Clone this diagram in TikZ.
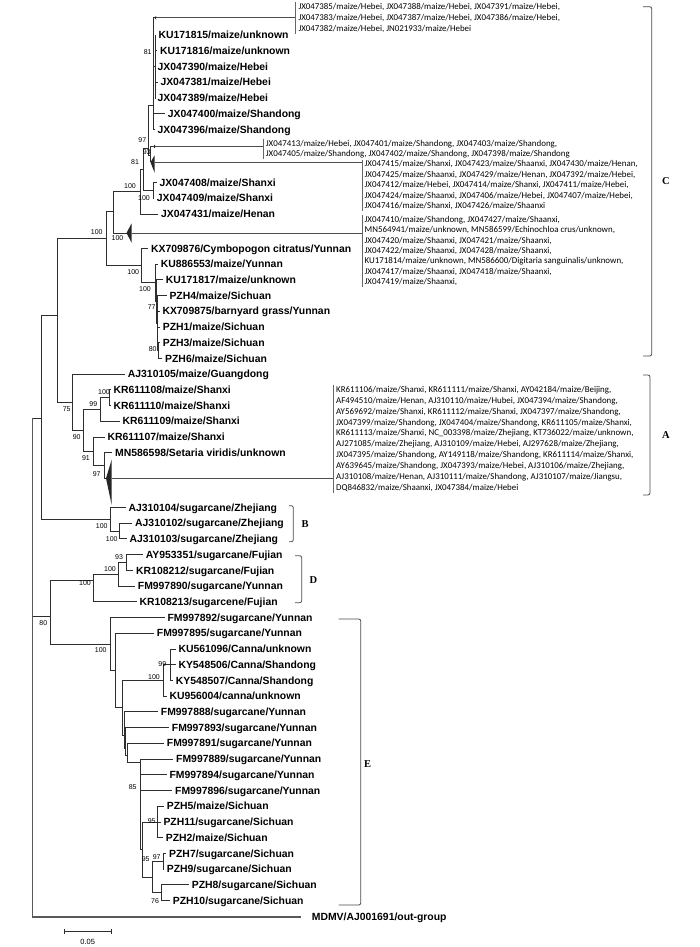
\documentclass[tikz,border=0pt]{standalone}
\usepackage{fontspec}
\setmainfont{Liberation Sans}
\newfontfamily\carl{Carlito}
\newfontfamily\serifb{Liberation Serif}
\tikzset{
 tree/.style={line width=0.75pt, draw=black!82},
 lab/.style={anchor=west, inner sep=0pt, font=\bfseries\fontsize{10.4}{12}\selectfont, text height=7.5pt, text depth=0pt},
 bs/.style={inner sep=0pt, font=\fontsize{7}{8}\selectfont},
 gline/.style={anchor=west, inner sep=0pt, font=\carl\fontsize{8.9}{10}\selectfont, text height=5.7pt, text depth=0pt},
 gbar/.style={line width=0.6pt, draw=black!60},
 conn/.style={line width=0.75pt, draw=black!70},
 brk/.style={line width=0.8pt, draw=black!70, rounded corners=2pt},
 clade/.style={inner sep=0pt, font=\serifb\bfseries\fontsize{10.5}{12}\selectfont},
 tri/.style={fill=black!85},
}
\newcommand\tleaf[4]{\node[lab] (#1) at (#2,#3) {#4};}
\newcommand\tcn[2]{\draw[tree] (#1) |- (#2);}
\newcommand\tcl[2]{\draw[tree] (#1) |- ([xshift=-2.6pt]#2.west);}
\newcommand\tbs[4]{\node[bs] (#1) at (#2,#3) {#4};}
\newcommand\tgl[4]{\node[gline] (#1) at (#2,#3) {#4};}
\begin{document}
\begin{tikzpicture}[x=1pt,y=-1pt]
\useasboundingbox (0,0) rectangle (700,947);
\fill[white] (0,0) rectangle (700,947);
% ---------- internal nodes
\coordinate (rt) at (32.3,418);
\coordinate (n41) at (41,418);
\coordinate (nC) at (57.3,315);
\coordinate (n106) at (106,238.5);
\coordinate (n114) at (113.3,211.8);
\coordinate (n140) at (140,191.5);
\coordinate (n143) at (143.3,169.2);
\coordinate (n97) at (148.5,148);
\coordinate (nTop) at (153.3,105);
\coordinate (nTopb) at (155,66.4);
\coordinate (n93) at (150.5,155);
\coordinate (n153) at (153.3,190.4);
\coordinate (n141) at (141.7,265.5);
\coordinate (n155) at (155,282.7);
\coordinate (n157) at (156.7,301.3);
\coordinate (n77) at (157.8,323);
\coordinate (n80) at (158.8,350.5);
\coordinate (nA) at (72.7,402.2);
\coordinate (n90) at (83.3,430.3);
\coordinate (n99) at (100,409.4);
\coordinate (n100) at (109.3,397.5);
\coordinate (n91) at (93.3,451.2);
\coordinate (n97a) at (104,465.5);
\coordinate (nB) at (110,519.2);
\coordinate (n100B) at (119.3,531);
\coordinate (nDE) at (50,616);
\coordinate (nD) at (93.3,580);
\coordinate (n100d) at (118.3,574.2);
\coordinate (n93d) at (126,562.4);
\coordinate (nE) at (110,644);
\coordinate (nE2) at (115,670.4);
\coordinate (nE3) at (122.7,707.6);
\coordinate (nCan) at (163.3,680.3);
\coordinate (n99c) at (170,664.6);
\coordinate (nE4) at (124.2,735);
\coordinate (nE5) at (125.7,748);
\coordinate (nE6) at (127.2,755);
\coordinate (n85) at (140,762);
\coordinate (nP) at (142.7,849.5);
\coordinate (n95a) at (157.3,821.9);
\coordinate (n95b) at (152.7,877);
\coordinate (n97e) at (163.3,861.2);
\coordinate (n76) at (161.7,892.7);
% collapsed clade tips and bases
\coordinate (t1) at (154.5,17.8);   \coordinate (t1b) at (156,17.8);
\coordinate (t2) at (153,146.5);    \coordinate (t2b) at (155,146.5);
\coordinate (t3) at (150.5,162.3);  \coordinate (t3b) at (154.5,162.3);
\coordinate (t4) at (126.5,233);    \coordinate (t4b) at (131.5,233);
\coordinate (tA) at (106,478.3);    \coordinate (tAb) at (111.7,478.3);
\coordinate (mdEnd) at (301,917);
% ends of the connectors at the bars of the collapsed lists
\coordinate (g1x) at (295.7,17.8);
\coordinate (g2x) at (263.3,146.5);
\coordinate (g3x) at (362.5,162.3);
\coordinate (g4x) at (362.5,233);
\coordinate (gAx) at (333.5,478.3);
% ---------- leaves
\tleaf{KU171815}{158.3}{35}{KU171815/maize/unknown}
\tleaf{KU171816}{159.8}{50.7}{KU171816/maize/unknown}
\tleaf{JX047390}{157.5}{66.4}{JX047390/maize/Hebei}
\tleaf{JX047381}{160.3}{82.2}{JX047381/maize/Hebei}
\tleaf{JX047389}{157.5}{97.9}{JX047389/maize/Hebei}
\tleaf{JX047400}{167.7}{113.6}{JX047400/maize/Shandong}
\tleaf{JX047396}{157.5}{129.3}{JX047396/maize/Shandong}
\tleaf{JX047408}{159.3}{182.5}{JX047408/maize/Shanxi}
\tleaf{JX047409}{156.7}{198.2}{JX047409/maize/Shanxi}
\tleaf{JX047431}{161}{213.9}{JX047431/maize/Henan}
\tleaf{KX709876}{151}{248.3}{KX709876/Cymbopogon citratus/Yunnan}
\tleaf{KU886553}{160.7}{264}{KU886553/maize/Yunnan}
\tleaf{KU171817}{165.7}{279.7}{KU171817/maize/unknown}
\tleaf{PZH4}{169.3}{295.4}{PZH4/maize/Sichuan}
\tleaf{KX709875}{162.3}{311.1}{KX709875/barnyard grass/Yunnan}
\tleaf{PZH1}{162.7}{326.9}{PZH1/maize/Sichuan}
\tleaf{PZH3}{162.7}{342.6}{PZH3/maize/Sichuan}
\tleaf{PZH6}{165}{358.3}{PZH6/maize/Sichuan}
\tleaf{AJ310105}{127.7}{374}{AJ310105/maize/Guangdong}
\tleaf{KR611108}{113.3}{389.7}{KR611108/maize/Shanxi}
\tleaf{KR611110}{113.3}{405.4}{KR611110/maize/Shanxi}
\tleaf{KR611109}{122.3}{421.2}{KR611109/maize/Shanxi}
\tleaf{KR611107}{107.3}{436.9}{KR611107/maize/Shanxi}
\tleaf{MN586598}{115}{452.6}{MN586598/Setaria viridis/unknown}
\tleaf{AJ310104}{128.3}{507.3}{AJ310104/sugarcane/Zhejiang}
\tleaf{AJ310102}{135}{523.1}{AJ310102/sugarcane/Zhejiang}
\tleaf{AJ310103}{129.3}{538.8}{AJ310103/sugarcane/Zhejiang}
\tleaf{AY953351}{145.7}{554.5}{AY953351/sugarcane/Fujian}
\tleaf{KR108212}{136}{570.3}{KR108212/sugarcane/Fujian}
\tleaf{FM997890}{137.7}{586}{FM997890/sugarcane/Yunnan}
\tleaf{KR108213}{139.3}{601.7}{KR108213/sugarcene/Fujian}
\tleaf{FM997892}{167.3}{617.4}{FM997892/sugarcane/Yunnan}
\tleaf{FM997895}{156.7}{633.2}{FM997895/sugarcane/Yunnan}
\tleaf{KU561096}{178.3}{648.9}{KU561096/Canna/unknown}
\tleaf{KY548506}{178.3}{664.6}{KY548506/Canna/Shandong}
\tleaf{KY548507}{175.7}{680.3}{KY548507/Canna/Shandong}
\tleaf{KU956004}{169.3}{696}{KU956004/canna/unknown}
\tleaf{FM997888}{160.7}{711.8}{FM997888/sugarcane/Yunnan}
\tleaf{FM997893}{171.7}{727.5}{FM997893/sugarcane/Yunnan}
\tleaf{FM997891}{166.7}{743.2}{FM997891/sugarcane/Yunnan}
\tleaf{FM997889}{176}{759}{FM997889/sugarcane/Yunnan}
\tleaf{FM997894}{169.3}{774.7}{FM997894/sugarcane/Yunnan}
\tleaf{FM997896}{175}{790.4}{FM997896/sugarcane/Yunnan}
\tleaf{PZH5}{166.7}{806.1}{PZH5/maize/Sichuan}
\tleaf{PZH11}{163.3}{821.9}{PZH11/sugarcane/Sichuan}
\tleaf{PZH2}{165.7}{837.6}{PZH2/maize/Sichuan}
\tleaf{PZH7}{169}{853.3}{PZH7/sugarcane/Sichuan}
\tleaf{PZH9}{166.7}{869}{PZH9/sugarcane/Sichuan}
\tleaf{PZH8}{191.7}{884.8}{PZH8/sugarcane/Sichuan}
\tleaf{PZH10}{172.7}{900.5}{PZH10/sugarcane/Sichuan}
\tleaf{MDMV}{311.7}{917}{MDMV/AJ001691/out-group}
% ---------- branches
\tcn{rt}{n41}\tcn{rt}{nDE}\draw[line width=1.1pt, draw=black!65] (rt) |- (mdEnd);
\tcn{n41}{nC}\tcn{n41}{nB}
\tcn{nC}{n106}\tcn{nC}{nA}
\tcn{n106}{n114}\tcn{n106}{n141}
\tcn{n114}{n140}\tcn{n114}{t4}
\tcn{n140}{n143}\tcl{n140}{JX047431}
\tcn{n143}{n97}\tcn{n143}{n153}
\tcn{n97}{nTop}\tcn{n97}{n93}
\tcn{nTop}{t1}\tcn{nTop}{nTopb}\tcl{nTop}{JX047400}\tcl{nTop}{JX047396}
\tcl{nTopb}{KU171815}\tcl{nTopb}{KU171816}\tcl{nTopb}{JX047390}\tcl{nTopb}{JX047381}\tcl{nTopb}{JX047389}
\tcn{n93}{t2}\tcn{n93}{t3}
\tcl{n153}{JX047408}\tcl{n153}{JX047409}
\tcl{n141}{KX709876}\tcn{n141}{n155}
\tcl{n155}{KU886553}\tcn{n155}{n157}
\tcl{n157}{KU171817}\tcn{n157}{n77}
\tcl{n77}{PZH4}\tcl{n77}{KX709875}\tcl{n77}{PZH1}\tcn{n77}{n80}
\tcl{n80}{PZH3}\tcl{n80}{PZH6}
\tcl{nA}{AJ310105}\tcn{nA}{n90}
\tcn{n90}{n99}\tcn{n90}{n91}
\tcn{n99}{n100}\tcl{n99}{KR611109}
\tcl{n100}{KR611108}\tcl{n100}{KR611110}
\tcl{n91}{KR611107}\tcn{n91}{n97a}
\tcl{n97a}{MN586598}\tcn{n97a}{tA}
\tcl{nB}{AJ310104}\tcn{nB}{n100B}
\tcl{n100B}{AJ310102}\tcl{n100B}{AJ310103}
\tcn{nDE}{nD}\tcn{nDE}{nE}
\tcn{nD}{n100d}\tcl{nD}{KR108213}
\tcn{n100d}{n93d}\tcl{n100d}{FM997890}
\tcl{n93d}{AY953351}\tcl{n93d}{KR108212}
\tcl{nE}{FM997892}\tcn{nE}{nE2}
\tcl{nE2}{FM997895}\tcn{nE2}{nE3}
\tcn{nE3}{nCan}\tcn{nE3}{nE4}
\tcn{nCan}{n99c}\tcl{nCan}{KU956004}
\tcl{n99c}{KU561096}\tcl{n99c}{KY548506}\tcl{n99c}{KY548507}
\tcl{nE4}{FM997888}\tcn{nE4}{nE5}
\tcl{nE5}{FM997893}\tcn{nE5}{nE6}
\tcl{nE6}{FM997891}\tcn{nE6}{n85}
\tcl{n85}{FM997889}\tcl{n85}{FM997894}\tcl{n85}{FM997896}\tcn{n85}{nP}
\tcn{nP}{n95a}\tcn{nP}{n95b}
\tcl{n95a}{PZH5}\tcl{n95a}{PZH11}\tcl{n95a}{PZH2}
\tcn{n95b}{n97e}\tcn{n95b}{n76}
\tcl{n97e}{PZH7}\tcl{n97e}{PZH9}
\tcl{n76}{PZH8}\tcl{n76}{PZH10}
% ---------- collapsed clades
\fill[tri] (t1) -- (156,16) -- (156,19.6) -- cycle;
\fill[tri] (t2) -- (155,144.7) -- (155,148.3) -- cycle;
\fill[tri] (t3) -- (154.5,155.5) -- (154.5,172.5) -- cycle;
\fill[tri] (t4) -- (131.5,223.5) -- (131.5,242.5) -- cycle;
\fill[tri] (tA) -- (111.7,459.5) -- (111.7,505) -- cycle;
\draw[conn] (t1b) -- (g1x);
\draw[conn] (t2b) -- (g2x);
\draw[conn] (t3b) -- (g3x);
\draw[conn] (t4b) -- (g4x);
\draw[conn] (tAb) -- (gAx);
\draw[gbar] (295.7,2) -- (295.7,34);
\draw[gbar] (263.3,138.5) -- (263.3,158.5);
\draw[gbar] (362.5,159.5) -- (362.5,210.5);
\draw[gbar] (362.5,214.5) -- (362.5,286.5);
\draw[gbar] (333.5,384.5) -- (333.5,493);
% ---------- collapsed lists
\tgl{g1a}{298.3}{7}{JX047385/maize/Hebei, JX047388/maize/Hebei, JX047391/maize/Hebei,}
\tgl{g1b}{298.3}{18}{JX047383/maize/Hebei, JX047387/maize/Hebei, JX047386/maize/Hebei,}
\tgl{g1c}{298.3}{29}{JX047382/maize/Hebei, JN021933/maize/Hebei}
\tgl{g2a}{265.7}{143.3}{JX047413/maize/Hebei, JX047401/maize/Shandong, JX047403/maize/Shandong,}
\tgl{g2b}{265.7}{154}{JX047405/maize/Shandong, JX047402/maize/Shandong, JX047398/maize/Shandong}
\tgl{g3a}{364.5}{164}{JX047415/maize/Shanxi, JX047423/maize/Shaanxi, JX047430/maize/Henan,}
\tgl{g3b}{364.5}{174.5}{JX047425/maize/Shaanxi, JX047429/maize/Henan, JX047392/maize/Hebei,}
\tgl{g3c}{364.5}{185}{JX047412/maize/Hebei, JX047414/maize/Shanxi, JX047411/maize/Hebei,}
\tgl{g3d}{364.5}{195.5}{JX047424/maize/Shaanxi, JX047406/maize/Hebei, JX047407/maize/Hebei,}
\tgl{g3e}{364.5}{206}{JX047416/maize/Shanxi, JX047426/maize/Shaanxi}
\tgl{g4a}{364.5}{219.3}{JX047410/maize/Shandong, JX047427/maize/Shaanxi,}
\tgl{g4b}{364.5}{229.8}{MN564941/maize/unknown, MN586599/Echinochloa crus/unknown,}
\tgl{g4c}{364.5}{240.2}{JX047420/maize/Shaanxi, JX047421/maize/Shaanxi,}
\tgl{g4d}{364.5}{250.7}{JX047422/maize/Shaanxi, JX047428/maize/Shaanxi,}
\tgl{g4e}{364.5}{261.1}{KU171814/maize/unknown, MN586600/Digitaria sanguinalis/unknown,}
\tgl{g4f}{364.5}{271.6}{JX047417/maize/Shaanxi, JX047418/maize/Shaanxi,}
\tgl{g4g}{364.5}{282}{JX047419/maize/Shaanxi,}
\tgl{gAa}{336}{389.5}{KR611106/maize/Shanxi, KR611111/maize/Shanxi, AY042184/maize/Beijing,}
\tgl{gAb}{336}{400.4}{AF494510/maize/Henan, AJ310110/maize/Hubei, JX047394/maize/Shandong,}
\tgl{gAc}{336}{411.3}{AY569692/maize/Shanxi, KR611112/maize/Shanxi, JX047397/maize/Shandong,}
\tgl{gAd}{336}{422.2}{JX047399/maize/Shandong, JX047404/maize/Shandong, KR611105/maize/Shanxi,}
\tgl{gAe}{336}{433.1}{KR611113/maize/Shanxi, NC\_003398/maize/Zhejiang, KT736022/maize/unknown,}
\tgl{gAf}{336}{444}{AJ271085/maize/Zhejiang, AJ310109/maize/Hebei, AJ297628/maize/Zhejiang,}
\tgl{gAg}{336}{454.9}{JX047395/maize/Shandong, AY149118/maize/Shandong, KR611114/maize/Shanxi,}
\tgl{gAh}{336}{465.8}{AY639645/maize/Shandong, JX047393/maize/Hebei, AJ310106/maize/Zhejiang,}
\tgl{gAi}{336}{476.7}{AJ310108/maize/Henan, AJ310111/maize/Shandong, AJ310107/maize/Jiangsu,}
\tgl{gAj}{336}{487.6}{DQ846832/maize/Shaanxi, JX047384/maize/Hebei}
% ---------- bootstrap values
\tbs{b1}{147.7}{52.3}{81}
\tbs{b2}{142.3}{140}{97}
\tbs{b3}{146.7}{152.5}{93}
\tbs{b4}{135}{162.3}{81}
\tbs{b5}{130}{185.7}{100}
\tbs{b6}{144}{198}{100}
\tbs{b7}{96.7}{232.3}{100}
\tbs{b8}{117.5}{238}{100}
\tbs{b9}{133.3}{271.7}{100}
\tbs{b10}{145}{289.3}{100}
\tbs{b11}{151.7}{306.7}{77}
\tbs{b12}{152.7}{349.3}{80}
\tbs{b13}{66.7}{409.3}{75}
\tbs{b14}{104}{392.3}{100}
\tbs{b15}{93.3}{404}{99}
\tbs{b16}{76.7}{437.3}{90}
\tbs{b17}{86}{457.7}{91}
\tbs{b18}{96.7}{474}{97}
\tbs{b19}{101.7}{525.7}{100}
\tbs{b20}{111.7}{539}{100}
\tbs{b21}{119}{557.3}{93}
\tbs{b22}{110}{569.3}{100}
\tbs{b23}{85}{582.7}{100}
\tbs{b24}{43.3}{623.3}{80}
\tbs{b25}{100.7}{650}{100}
\tbs{b26}{162.3}{664}{99}
\tbs{b27}{154}{677.3}{100}
\tbs{b28}{132.7}{786.7}{85}
\tbs{b29}{151.7}{820.7}{95}
\tbs{b30}{145.7}{859}{95}
\tbs{b31}{156.7}{856.7}{97}
\tbs{b32}{155}{900.7}{76}
% ---------- clade brackets
\draw[brk] (643,6.7) -- (651.7,6.7) -- (651.7,356) -- (643,356);
\draw[brk] (643,375) -- (650,375) -- (650,495) -- (643,495);
\draw[brk] (289,505.7) -- (293.3,505.7) -- (293.3,541.7) -- (289,541.7);
\draw[brk] (295,555.7) -- (301.7,555.7) -- (301.7,602.7) -- (295,602.7);
\draw[brk] (338.5,619) -- (360.7,619) -- (360.7,905) -- (338.5,905);
\node[clade] (cC) at (666,181) {C};
\node[clade] (cA) at (666,435) {A};
\node[clade] (cB) at (305,524) {B};
\node[clade] (cD) at (313.5,580) {D};
\node[clade] (cE) at (367.5,764) {E};
% ---------- scale bar
\coordinate (s1) at (64.3,931.7);
\coordinate (s2) at (111,931.7);
\draw[tree] (s1) -- (s2);
\draw[tree] (64.3,929) -- (64.3,934.4);
\draw[tree] (111,929) -- (111,934.4);
\node[inner sep=0pt, font=\fontsize{7.5}{9}\selectfont] (sl) at (87.7,942) {0.05};
\end{tikzpicture}
\end{document}
